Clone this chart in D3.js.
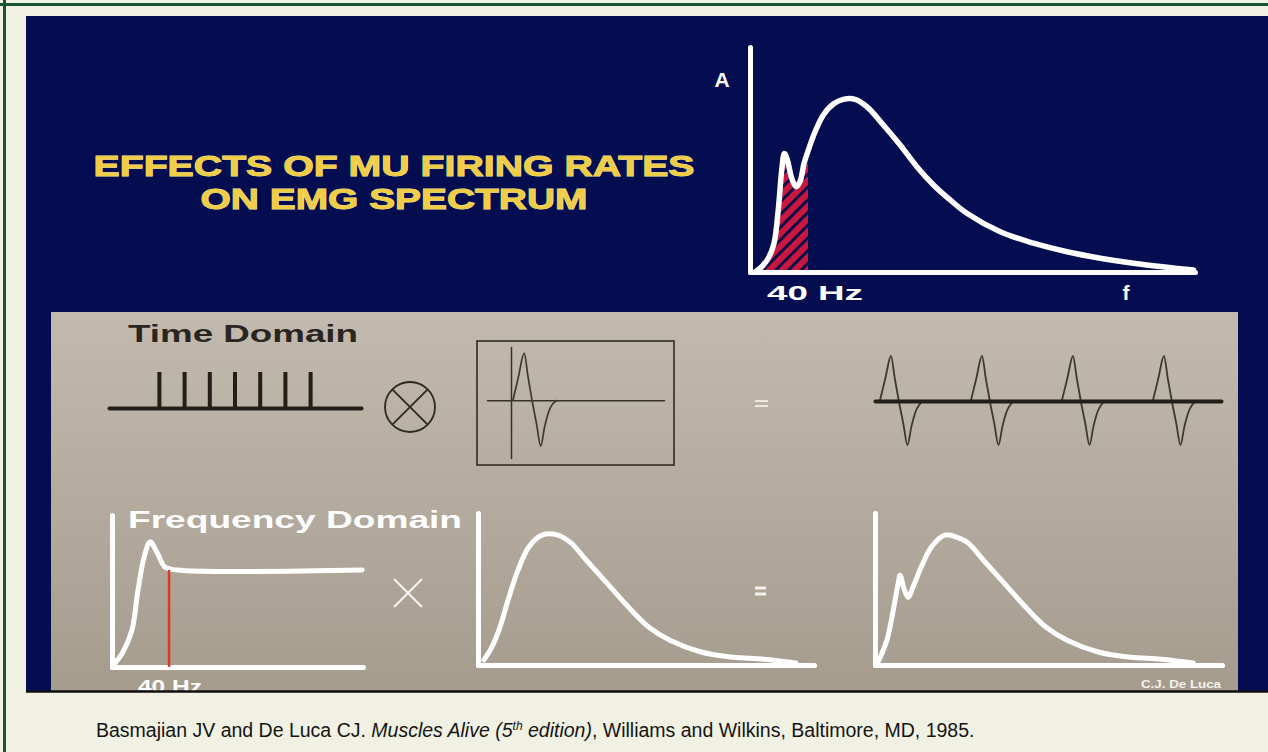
<!DOCTYPE html>
<html><head><meta charset="utf-8">
<script src="https://cdn.jsdelivr.net/npm/d3@7"></script>
<style>html,body{margin:0;padding:0;background:#F1F1E3;} svg{display:block}</style>
</head><body>
<svg id="chart"></svg>
<script>
// ---------------- DATA ----------------
const titleLines = ["EFFECTS OF MU FIRING RATES", "ON EMG SPECTRUM"];
// Top: EMG spectrum (frequency in Hz, relative amplitude)
const emgHz  = [3.5, 8.1, 12.6, 16.6, 19.5, 21.9, 23.7, 25.8, 28.8, 31.8, 34.5, 37.3, 40.3, 44.9, 50.6, 57.5, 64.4, 72.5, 80.6, 92, 103.6, 115.1, 126.6, 138.1, 149.6, 172.6, 195.6, 218.7, 241.7, 264.6, 287.7, 306];
const emgAmp = [0, 0.03, 0.079, 0.166, 0.356, 0.585, 0.68, 0.642, 0.537, 0.489, 0.518, 0.623, 0.70, 0.804, 0.90, 0.963, 0.99, 0.99, 0.948, 0.843, 0.728, 0.604, 0.499, 0.413, 0.337, 0.231, 0.165, 0.116, 0.079, 0.05, 0.027, 0.011];
const cutoffHz = 40;
const topLabels = { yAxis: "A", xAxis: "f", cutoff: "40 Hz" };

// Time domain
const sectionLabels = ["Time Domain", "Frequency Domain"];
const spikeTimes = [2, 3, 4, 5, 6, 7, 8];          // firing instants
const muapT   = [0, 1.1, 2.24, 3.0, 3.8, 4.7, 5.54, 6.32, 7.12, 7.9, 8.86];   // MUAP shape, time units
const muapAmp = [0, 0.5, 1.0, 0.5, 0, -0.5, -0.98, -0.57, -0.25, -0.085, 0];
const trainOnsets = [0.96, 19.16, 37.36, 55.56];     // MUAP train onsets

// Frequency domain
const firingHz  = [2.1, 7.7, 14.0, 18.2, 22.5, 26.7, 31.6, 37.2, 45.6, 175.4];
const firingAmp = [0.04, 0.155, 0.38, 0.79, 1.13, 1.29, 1.18, 1.03, 1.0, 1.0];
const muapSpecHz  = [4.2, 9.8, 15.4, 21.1, 28.1, 35.8, 44.9, 56.2, 65.3, 75.8, 90.6, 105.3, 120.1, 134.8, 156.6, 179.1, 200.8, 223.3];
const muapSpecAmp = [0.04, 0.14, 0.29, 0.50, 0.73, 0.91, 1.0, 1.0, 0.94, 0.81, 0.63, 0.45, 0.29, 0.19, 0.10, 0.06, 0.045, 0.015];
const emgSpecHz  = [2.0, 4.9, 8.6, 11.9, 16.3, 17.6, 20.3, 23.2, 26.7, 32.3, 39.7, 48.9, 58.1, 65.3, 75.8, 90.6, 105.3, 120.1, 134.8, 156.6, 179.1, 200.8, 223.3];
const emgSpecAmp = [0.02, 0.09, 0.2, 0.37, 0.63, 0.69, 0.59, 0.52, 0.60, 0.75, 0.91, 1.0, 0.98, 0.94, 0.81, 0.63, 0.45, 0.29, 0.19, 0.10, 0.06, 0.045, 0.015];
const bottomLabels = { cutoff: "40 Hz", credit: "C.J. De Luca" };

const captionParts = [
  {t: "Basmajian JV and De Luca CJ. ", style: "normal"},
  {t: "Muscles Alive (5", style: "italic"},
  {t: "th", style: "italic", sup: true},
  {t: " edition)", style: "italic"},
  {t: ", Williams and Wilkins, Baltimore, MD, 1985.", style: "normal"}
];

// ---------------- DRAWING ----------------
const W = 1268, H = 752;
const FONT = "'Liberation Sans', Arial, Helvetica, sans-serif";
const svg = d3.select("#chart").attr("width", W).attr("height", H);
const defs = svg.append("defs");

const grad = defs.append("linearGradient").attr("id", "beige").attr("x1", 0).attr("y1", 0).attr("x2", 0).attr("y2", 1);
grad.append("stop").attr("offset", "0%").attr("stop-color", "#C2BAAE");
grad.append("stop").attr("offset", "100%").attr("stop-color", "#A59C8E");

const pat = defs.append("pattern").attr("id", "hatch").attr("patternUnits", "userSpaceOnUse")
  .attr("width", 9).attr("height", 9).attr("patternTransform", "rotate(45)");
pat.append("rect").attr("width", 9).attr("height", 9).attr("fill", "#C9173F");
pat.append("rect").attr("width", 3).attr("height", 9).attr("fill", "#0D0F48");

defs.append("clipPath").attr("id", "slideClip").append("rect")
  .attr("x", 26).attr("y", 16).attr("width", W - 26).attr("height", 675);

// page background + green frame
svg.append("rect").attr("width", W).attr("height", H).attr("fill", "#F1F1E3");
svg.append("line").attr("x1", 0).attr("x2", W).attr("y1", 4.5).attr("y2", 4.5).attr("stroke", "#17552E").attr("stroke-width", 3);
svg.append("line").attr("x1", 4.5).attr("x2", 4.5).attr("y1", 0).attr("y2", H).attr("stroke", "#17552E").attr("stroke-width", 3);

const slide = svg.append("g").attr("clip-path", "url(#slideClip)");
slide.append("rect").attr("x", 26).attr("y", 16).attr("width", W - 26).attr("height", 676).attr("fill", "#030D4F");
slide.append("rect").attr("x", 51).attr("y", 312).attr("width", 1187).attr("height", 380).attr("fill", "url(#beige)");

function styleAxis(sel, color, width) {
  sel.selectAll(".tick").remove();
  sel.select(".domain").attr("stroke", color).attr("stroke-width", width)
    .attr("stroke-linecap", "round").attr("fill", "none");
}
function label(parent, txt, x, y, size, fill, len, anchor) {
  const t = parent.append("text").attr("x", x).attr("y", y).text(txt)
    .attr("font-family", FONT).attr("font-weight", "bold").attr("font-size", size)
    .attr("fill", fill).attr("text-anchor", anchor || "start");
  if (len) t.attr("textLength", len).attr("lengthAdjust", "spacingAndGlyphs");
  return t;
}

// ---- Title ----
titleLines.forEach((s, i) => {
  label(slide, s, 394, 176 + i * 33, 29, "#F1CD45", i === 0 ? 601 : 387, "middle")
    .attr("stroke", "#FCEB95").attr("stroke-width", 0.9).attr("paint-order", "stroke");
});

// ---- Top spectrum ----
const topX = d3.scaleLinear().domain([0, 307]).range([750, 1195]);
const topY = d3.scaleLinear().domain([0, 1.29]).range([272, 47]);
const emgPts = emgHz.map((f, i) => [f, emgAmp[i]]);
defs.append("clipPath").attr("id", "cutClip").append("rect")
  .attr("x", topX(0)).attr("y", topY(1.29)).attr("width", topX(cutoffHz) - topX(0)).attr("height", topY(0) - topY(1.29));
const smooth = d3.curveCatmullRom.alpha(0.5);
slide.append("path")
  .attr("d", d3.area().x(d => topX(d[0])).y0(topY(0)).y1(d => topY(d[1])).curve(smooth)(emgPts))
  .attr("fill", "url(#hatch)").attr("clip-path", "url(#cutClip)");
slide.append("g").attr("transform", `translate(0,${topY(0)})`)
  .call(d3.axisBottom(topX).tickValues([]).tickSizeOuter(0)).call(styleAxis, "#fff", 5);
slide.append("g").attr("transform", `translate(${topX(0)},0)`)
  .call(d3.axisLeft(topY).tickValues([]).tickSizeOuter(0)).call(styleAxis, "#fff", 5);
slide.append("path")
  .attr("d", d3.line().x(d => topX(d[0])).y(d => topY(d[1])).curve(smooth)(emgPts))
  .attr("fill", "none").attr("stroke", "#fff").attr("stroke-width", 5.5).attr("stroke-linecap", "round").attr("stroke-linejoin", "round");
label(slide, topLabels.yAxis, 722, 87, 21, "#fff", null, "middle");
label(slide, topLabels.cutoff, 767, 300, 21, "#fff", 96);
label(slide, topLabels.xAxis, 1126, 300, 21, "#fff", null, "middle");

// ---- Time domain ----
const darkInk = "#221E18";
label(slide, sectionLabels[0], 128, 342, 23, "#2A251F", 230);

// spike train
const spX = d3.scaleLinear().domain([0, 10]).range([109, 361]);
const spY = d3.scaleLinear().domain([0, 1]).range([408, 372]);
slide.append("g").attr("transform", `translate(0,${spY(0)})`)
  .call(d3.axisBottom(spX).tickValues([]).tickSizeOuter(0)).call(styleAxis, darkInk, 4);
slide.append("g").selectAll("line").data(spikeTimes).join("line")
  .attr("x1", d => spX(d)).attr("x2", d => spX(d)).attr("y1", spY(0)).attr("y2", spY(1))
  .attr("stroke", darkInk).attr("stroke-width", 4);

// convolution symbol
const ox = 410, oy = 407, orr = 25;
slide.append("circle").attr("cx", ox).attr("cy", oy).attr("r", orr).attr("fill", "none").attr("stroke", "#2C2822").attr("stroke-width", 1.8);
[[-1, -1, 1, 1], [-1, 1, 1, -1]].forEach(c => {
  const k = orr * Math.SQRT1_2;
  slide.append("line").attr("x1", ox + c[0] * k).attr("y1", oy + c[1] * k).attr("x2", ox + c[2] * k).attr("y2", oy + c[3] * k)
    .attr("stroke", "#2C2822").attr("stroke-width", 1.8);
});

// MUAP box
slide.append("rect").attr("x", 477).attr("y", 341).attr("width", 197).attr("height", 124)
  .attr("fill", "none").attr("stroke", "#2F2B25").attr("stroke-width", 1.6);
const bX = d3.scaleLinear().domain([-4.8, 30.6]).range([487, 664]);
const bY = d3.scaleLinear().domain([-1.23, 1.13]).range([458, 347]);
slide.append("g").attr("transform", `translate(0,${bY(0)})`)
  .call(d3.axisBottom(bX).tickValues([]).tickSizeOuter(0)).call(styleAxis, "#36322B", 1.5);
slide.append("g").attr("transform", `translate(${bX(0)},0)`)
  .call(d3.axisLeft(bY).tickValues([]).tickSizeOuter(0)).call(styleAxis, "#36322B", 1.5);
const muapPts = muapT.map((t, i) => [t, muapAmp[i]]);
slide.append("path")
  .attr("d", d3.line().x(d => bX(d[0] + 0.4)).y(d => bY(d[1])).curve(d3.curveMonotoneX)(muapPts))
  .attr("fill", "none").attr("stroke", "#3C3A2E").attr("stroke-width", 1.7);

// equals (time domain)
const eqT = slide.append("g").attr("stroke", "#ECE8E0").attr("stroke-width", 2);
[401, 406].forEach(y => eqT.append("line").attr("x1", 755).attr("x2", 768).attr("y1", y).attr("y2", y));

// MUAP train
const tX = d3.scaleLinear().domain([0, 69.2]).range([875, 1221]);
const tY = d3.scaleLinear().domain([-1, 1]).range([446, 356]);
trainOnsets.forEach(o => {
  slide.append("path")
    .attr("d", d3.line().x(d => tX(d[0] + o)).y(d => tY(d[1])).curve(d3.curveMonotoneX)(muapPts))
    .attr("fill", "none").attr("stroke", "#3C3A2E").attr("stroke-width", 1.8);
});
slide.append("g").attr("transform", `translate(0,${tY(0)})`)
  .call(d3.axisBottom(tX).tickValues([]).tickSizeOuter(0)).call(styleAxis, darkInk, 4);

// ---- Frequency domain ----
label(slide, sectionLabels[1], 128, 528, 24, "#fff", 334);

function panel(x0, x1, y0, yTop, xMax, yMax, hz, amp) {
  const x = d3.scaleLinear().domain([0, xMax]).range([x0, x1]);
  const y = d3.scaleLinear().domain([0, yMax]).range([y0, yTop]);
  slide.append("g").attr("transform", `translate(0,${y0})`)
    .call(d3.axisBottom(x).tickValues([]).tickSizeOuter(0)).call(styleAxis, "#fff", 5);
  slide.append("g").attr("transform", `translate(${x0},0)`)
    .call(d3.axisLeft(y).tickValues([]).tickSizeOuter(0)).call(styleAxis, "#fff", 5);
  const pts = hz.map((f, i) => [f, amp[i]]);
  slide.append("path")
    .attr("d", d3.line().x(d => x(d[0])).y(d => y(d[1])).curve(smooth)(pts))
    .attr("fill", "none").attr("stroke", "#fff").attr("stroke-width", 5).attr("stroke-linecap", "round").attr("stroke-linejoin", "round");
  return { x, y };
}
const pL = panel(112, 363, 667, 515, 176, 1.567, firingHz, firingAmp);
slide.append("line").attr("x1", pL.x(cutoffHz)).attr("x2", pL.x(cutoffHz)).attr("y1", pL.y(1.0)).attr("y2", pL.y(0))
  .attr("stroke", "#E0352A").attr("stroke-width", 2.5);
label(slide, bottomLabels.cutoff, 138, 693, 19, "#fff", 64);

panel(478, 814, 665, 513, 236, 1.17, muapSpecHz, muapSpecAmp);
panel(875, 1222, 665, 513, 243.5, 1.17, emgSpecHz, emgSpecAmp);

// times sign
const tx = 408, ty = 593, ts = 14;
const times = slide.append("g").attr("stroke", "#F4F2EE").attr("stroke-width", 2.2);
times.append("line").attr("x1", tx - ts).attr("y1", ty - ts).attr("x2", tx + ts).attr("y2", ty + ts);
times.append("line").attr("x1", tx - ts).attr("y1", ty + ts).attr("x2", tx + ts).attr("y2", ty - ts);
// equals (freq domain)
const eqF = slide.append("g").attr("stroke", "#F4F2EE").attr("stroke-width", 3);
[588, 594].forEach(y => eqF.append("line").attr("x1", 755).attr("x2", 766).attr("y1", y).attr("y2", y));

label(slide, bottomLabels.credit, 1141, 688, 10.5, "#F4F2EE", 80);

// bottom black rule
svg.append("line").attr("x1", 26).attr("x2", W).attr("y1", 691.5).attr("y2", 691.5).attr("stroke", "#0E0E0E").attr("stroke-width", 2.5);

// ---- Caption ----
const cap = svg.append("text").attr("x", 96).attr("y", 737).attr("font-family", FONT).attr("font-size", 19.5).attr("fill", "#141414");
captionParts.forEach((p, i) => {
  const prevSup = i > 0 && captionParts[i - 1].sup;
  const tsp = cap.append("tspan").text(p.t).attr("font-style", p.style);
  if (p.sup) tsp.attr("font-size", 12).attr("dy", -7);
  else if (prevSup) tsp.attr("dy", 7);
});
</script>
</body></html>
